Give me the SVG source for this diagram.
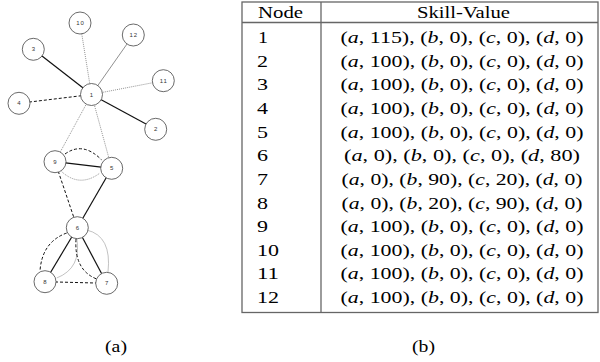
<svg xmlns="http://www.w3.org/2000/svg" width="600" height="362" viewBox="0 0 600 362">
<style>
.n circle{fill:#fff;stroke:#444;stroke-width:0.8}
.n text{font-family:"Liberation Sans",Arial,sans-serif;font-size:6px;fill:#333;text-anchor:middle;letter-spacing:1px}
.e{fill:none}
.s{stroke:#111;stroke-width:1.2}
.d{stroke:#111;stroke-width:1;stroke-dasharray:3 2}
.o{stroke:#777;stroke-width:0.8;stroke-dasharray:1 1}
.t{stroke:#999;stroke-width:0.6}
.g{stroke:#444;stroke-width:0.6}
.tb{stroke:#666;stroke-width:1.3;fill:none}
.tx{font-family:"Liberation Serif","Times New Roman",serif;font-size:17.5px;fill:#000}
.i{font-style:italic}
.m{text-anchor:middle}
</style>
<rect width="600" height="362" fill="#fff"/>
<g id="connectors" class="e">
<line class="s" x1="91.5" y1="94.5" x2="33.3" y2="49.3"/>
<line class="s" x1="91.5" y1="94.5" x2="155.7" y2="129.3"/>
<line class="d" x1="91.5" y1="94.5" x2="19" y2="103.3"/>
<line class="o" x1="91.5" y1="94.5" x2="80" y2="23"/>
<line class="g" x1="91.5" y1="94.5" x2="133.3" y2="35"/>
<line class="o" x1="91.5" y1="94.5" x2="163.3" y2="80.7"/>
<line class="o" x1="91.5" y1="94.5" x2="55" y2="161.7"/>
<line class="o" x1="91.5" y1="94.5" x2="111.7" y2="168.3"/>
<line class="s" x1="55" y1="161.7" x2="111.7" y2="168.3"/>
<path class="d" d="M65,154 Q83,141 101.7,160"/>
<path class="o" d="M61.7,171.7 Q80,188 100,173"/>
<line class="d" x1="55" y1="161.7" x2="77.3" y2="227.7"/>
<line class="s" x1="111.7" y1="168.3" x2="77.3" y2="227.7"/>
<line class="s" x1="77.3" y1="227.7" x2="45" y2="281.7"/>
<line class="s" x1="77.3" y1="227.7" x2="106.7" y2="283.3"/>
<line class="d" x1="45" y1="281.7" x2="106.7" y2="283.3"/>
<path class="d" d="M66.7,233 Q42,242 40,271"/>
<path class="t" d="M76.7,238 Q82,268 56.7,278"/>
<path class="d" d="M76,239 Q74,270 96.7,279"/>
<path class="t" d="M86.7,230 Q112,236 108,272"/>
</g>
<g id="node-1" class="n"><circle cx="91.5" cy="94.5" r="11"/><text x="92" y="96.5">1</text></g>
<g id="node-2" class="n"><circle cx="155.7" cy="129.3" r="11"/><text x="156.2" y="131.3">2</text></g>
<g id="node-3" class="n"><circle cx="33.3" cy="49.3" r="11"/><text x="33.8" y="51.3">3</text></g>
<g id="node-4" class="n"><circle cx="19" cy="103.3" r="11"/><text x="19.5" y="105.3">4</text></g>
<g id="node-5" class="n"><circle cx="111.7" cy="168.3" r="11"/><text x="112.2" y="170.3">5</text></g>
<g id="node-6" class="n"><circle cx="77.3" cy="227.7" r="11"/><text x="77.8" y="229.7">6</text></g>
<g id="node-7" class="n"><circle cx="106.7" cy="283.3" r="11"/><text x="107.2" y="285.3">7</text></g>
<g id="node-8" class="n"><circle cx="45" cy="281.7" r="11"/><text x="45.5" y="283.7">8</text></g>
<g id="node-9" class="n"><circle cx="55" cy="161.7" r="11"/><text x="55.5" y="163.7">9</text></g>
<g id="node-10" class="n"><circle cx="80" cy="23" r="11"/><text x="80.5" y="25">10</text></g>
<g id="node-11" class="n"><circle cx="163.3" cy="80.7" r="11"/><text x="163.8" y="82.7">11</text></g>
<g id="node-12" class="n"><circle cx="133.3" cy="35" r="11"/><text x="133.8" y="37">12</text></g>
<g id="table">
<rect class="tb" x="242" y="2" width="356" height="310.5"/>
<line class="tb" x1="321" y1="2" x2="321" y2="312.5"/>
<line class="tb" x1="242" y1="22.5" x2="598" y2="22.5"/>
<text class="tx" x="258" y="18" textLength="45" lengthAdjust="spacingAndGlyphs">Node</text>
<text class="tx" x="417" y="18" textLength="93" lengthAdjust="spacingAndGlyphs">Skill-Value</text>
<g class="tx">
<text x="258" y="43" textLength="10" lengthAdjust="spacingAndGlyphs">1</text>
<text x="257" y="66.6" textLength="11" lengthAdjust="spacingAndGlyphs">2</text>
<text x="257" y="90.3" textLength="11" lengthAdjust="spacingAndGlyphs">3</text>
<text x="257" y="113.9" textLength="11" lengthAdjust="spacingAndGlyphs">4</text>
<text x="257" y="137.6" textLength="11" lengthAdjust="spacingAndGlyphs">5</text>
<text x="257" y="161.2" textLength="11" lengthAdjust="spacingAndGlyphs">6</text>
<text x="257" y="184.9" textLength="11" lengthAdjust="spacingAndGlyphs">7</text>
<text x="257" y="208.5" textLength="11" lengthAdjust="spacingAndGlyphs">8</text>
<text x="257" y="232.1" textLength="11" lengthAdjust="spacingAndGlyphs">9</text>
<text x="257" y="255.8" textLength="22" lengthAdjust="spacingAndGlyphs">10</text>
<text x="257" y="279.4" textLength="22" lengthAdjust="spacingAndGlyphs">11</text>
<text x="257" y="303.1" textLength="22" lengthAdjust="spacingAndGlyphs">12</text>
</g>
<g class="tx m">
<text x="462" y="43" textLength="243" lengthAdjust="spacingAndGlyphs">(<tspan class="i">a</tspan>, 115), (<tspan class="i">b</tspan>, 0), (<tspan class="i">c</tspan>, 0), (<tspan class="i">d</tspan>, 0)</text>
<text x="462" y="66.6" textLength="243" lengthAdjust="spacingAndGlyphs">(<tspan class="i">a</tspan>, 100), (<tspan class="i">b</tspan>, 0), (<tspan class="i">c</tspan>, 0), (<tspan class="i">d</tspan>, 0)</text>
<text x="462" y="90.3" textLength="243" lengthAdjust="spacingAndGlyphs">(<tspan class="i">a</tspan>, 100), (<tspan class="i">b</tspan>, 0), (<tspan class="i">c</tspan>, 0), (<tspan class="i">d</tspan>, 0)</text>
<text x="462" y="113.9" textLength="243" lengthAdjust="spacingAndGlyphs">(<tspan class="i">a</tspan>, 100), (<tspan class="i">b</tspan>, 0), (<tspan class="i">c</tspan>, 0), (<tspan class="i">d</tspan>, 0)</text>
<text x="462" y="137.6" textLength="243" lengthAdjust="spacingAndGlyphs">(<tspan class="i">a</tspan>, 100), (<tspan class="i">b</tspan>, 0), (<tspan class="i">c</tspan>, 0), (<tspan class="i">d</tspan>, 0)</text>
<text x="462" y="161.2" textLength="236" lengthAdjust="spacingAndGlyphs">(<tspan class="i">a</tspan>, 0), (<tspan class="i">b</tspan>, 0), (<tspan class="i">c</tspan>, 0), (<tspan class="i">d</tspan>, 80)</text>
<text x="462" y="184.9" textLength="241" lengthAdjust="spacingAndGlyphs">(<tspan class="i">a</tspan>, 0), (<tspan class="i">b</tspan>, 90), (<tspan class="i">c</tspan>, 20), (<tspan class="i">d</tspan>, 0)</text>
<text x="462" y="208.5" textLength="241" lengthAdjust="spacingAndGlyphs">(<tspan class="i">a</tspan>, 0), (<tspan class="i">b</tspan>, 20), (<tspan class="i">c</tspan>, 90), (<tspan class="i">d</tspan>, 0)</text>
<text x="462" y="232.1" textLength="243" lengthAdjust="spacingAndGlyphs">(<tspan class="i">a</tspan>, 100), (<tspan class="i">b</tspan>, 0), (<tspan class="i">c</tspan>, 0), (<tspan class="i">d</tspan>, 0)</text>
<text x="462" y="255.8" textLength="243" lengthAdjust="spacingAndGlyphs">(<tspan class="i">a</tspan>, 100), (<tspan class="i">b</tspan>, 0), (<tspan class="i">c</tspan>, 0), (<tspan class="i">d</tspan>, 0)</text>
<text x="462" y="279.4" textLength="243" lengthAdjust="spacingAndGlyphs">(<tspan class="i">a</tspan>, 100), (<tspan class="i">b</tspan>, 0), (<tspan class="i">c</tspan>, 0), (<tspan class="i">d</tspan>, 0)</text>
<text x="462" y="303.1" textLength="243" lengthAdjust="spacingAndGlyphs">(<tspan class="i">a</tspan>, 100), (<tspan class="i">b</tspan>, 0), (<tspan class="i">c</tspan>, 0), (<tspan class="i">d</tspan>, 0)</text>
</g>
</g>
<g id="captions" class="tx">
<text x="105" y="351.5" textLength="22" lengthAdjust="spacingAndGlyphs">(a)</text>
<text x="412" y="351.5" textLength="23" lengthAdjust="spacingAndGlyphs">(b)</text>
</g>
</svg>
